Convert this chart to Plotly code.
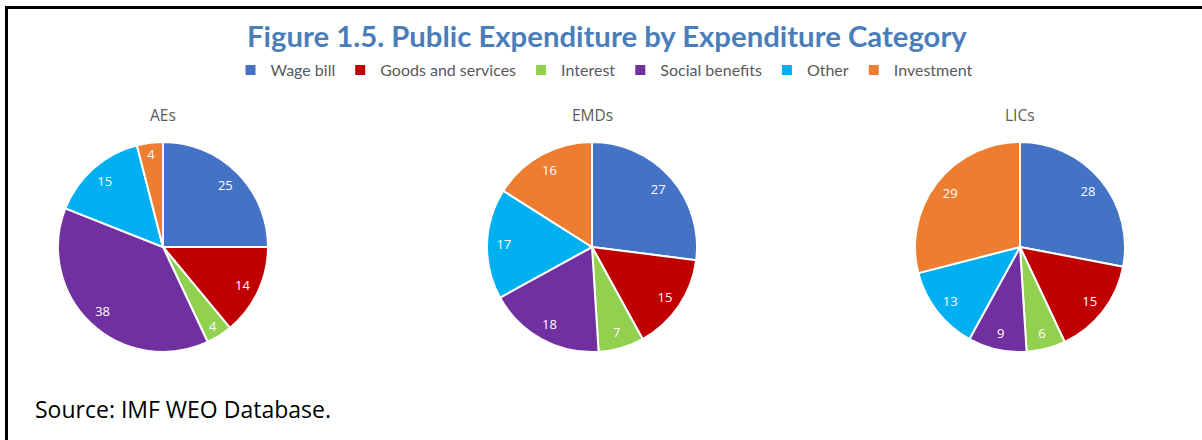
import plotly.graph_objects as go

# Expenditure categories and shares (percent of total public expenditure)
categories = ["Wage bill", "Goods and services", "Interest", "Social benefits", "Other", "Investment"]
colors = ["#4472C4", "#C00000", "#92D050", "#7030A0", "#00B0F0", "#ED7D31"]
groups = ["AEs", "EMDs", "LICs"]
aes_values = [25, 14, 4, 38, 15, 4]
emds_values = [27, 15, 7, 18, 17, 16]
lics_values = [28, 15, 6, 9, 13, 29]

W, H = 1202, 440
R = 105
centers_x = [163, 592, 1020]
center_y = 247

fig = go.Figure()
for i, (name, vals) in enumerate(zip(groups, [aes_values, emds_values, lics_values])):
    cx = centers_x[i]
    domain = dict(x=[(cx - R) / W, (cx + R) / W],
                  y=[(H - center_y - R) / H, (H - center_y + R) / H])
    # filled slices
    fig.add_trace(go.Pie(
        labels=categories, values=vals, sort=False, direction="clockwise", rotation=0,
        marker=dict(colors=colors, line=dict(color="white", width=2)),
        textinfo="none", hoverinfo="label+value",
        showlegend=(i == 0), domain=domain, name=name,
    ))
    # value labels near the outer edge of each slice (transparent ring on top)
    fig.add_trace(go.Pie(
        labels=categories, values=vals, sort=False, direction="clockwise", rotation=0,
        hole=0.68,
        marker=dict(colors=["rgba(0,0,0,0)"] * len(vals), line=dict(width=0)),
        textinfo="value", textposition="inside", insidetextorientation="horizontal",
        textfont=dict(color="white", size=13, family="Open Sans"),
        hoverinfo="skip", showlegend=False, domain=domain,
    ))
    fig.add_annotation(text=name, x=cx / W, y=1 - 115 / H, xref="paper", yref="paper",
                       xanchor="center", yanchor="middle", showarrow=False,
                       font=dict(size=15.5, color="#595959", family="Open Sans"))

fig.add_annotation(text="<b>Figure 1.5. Public Expenditure by Expenditure Category</b>",
                   x=607 / W, y=1 - 36 / H, xref="paper", yref="paper",
                   xanchor="center", yanchor="middle", showarrow=False,
                   font=dict(size=29.3, color="#4A7EBB", family="Lato"))
fig.add_annotation(text="Source: IMF WEO Database.", x=33 / W, y=1 - 409 / H,
                   xref="paper", yref="paper", xanchor="left", yanchor="middle", showarrow=False,
                   font=dict(size=23, color="#000000", family="Open Sans"))

# frame lines along the top and left edges
fig.add_shape(type="line", xref="paper", yref="paper", x0=5 / W, x1=1, y0=1 - 7.5 / H, y1=1 - 7.5 / H,
              line=dict(color="black", width=3))
fig.add_shape(type="line", xref="paper", yref="paper", x0=6.5 / W, x1=6.5 / W, y0=0, y1=1 - 6 / H,
              line=dict(color="black", width=3))

fig.update_layout(
    width=W, height=H,
    margin=dict(l=0, r=0, t=0, b=0),
    paper_bgcolor="white", plot_bgcolor="white",
    legend=dict(orientation="h", x=604 / W, xanchor="center", y=1 - 70 / H, yanchor="middle",
                font=dict(size=16, color="#595959", family="Lato"), itemwidth=30,
                traceorder="normal"),
)

fig.write_html("out.html")
